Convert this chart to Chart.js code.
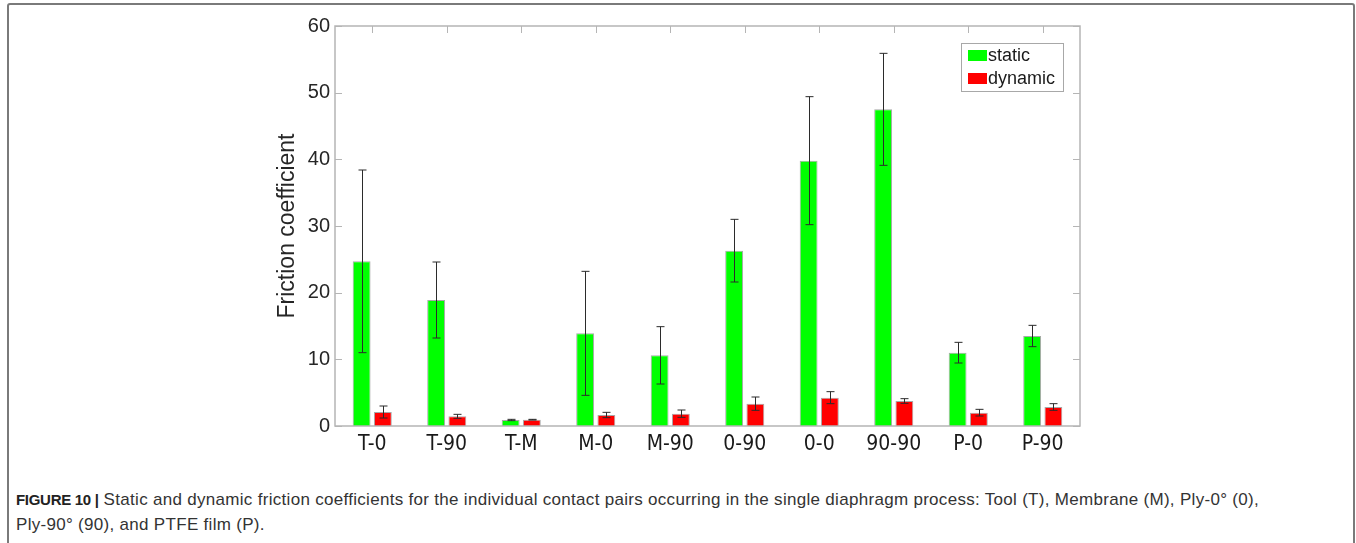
<!DOCTYPE html>
<html>
<head>
<meta charset="utf-8">
<script src="https://cdn.jsdelivr.net/npm/chart.js@4.4.0/dist/chart.umd.min.js"></script>
<style>
  body { margin: 0; background: #fff; width: 1356px; height: 543px; overflow: hidden; position: relative; }
  #frame { position: absolute; left: 7px; top: 3px; width: 1344px; height: 560px; border: 2px solid #7a7a7a; border-radius: 3px; }
  #wrap { position: absolute; left: 0; top: 0; width: 1356px; height: 470px; }
  #caption { position: absolute; left: 16px; top: 487px; font-family: "Liberation Sans", Arial, sans-serif; font-size: 17px; letter-spacing: 0.3px; line-height: 25px; color: #333; white-space: nowrap; }
  #caption b { font-weight: bold; font-size: 15px; letter-spacing: -0.3px; color: #222; }
</style>
</head>
<body>
<div id="frame"></div>
<div id="wrap"><canvas id="barChart"></canvas></div>
<div id="caption"><b>FIGURE 10 |</b> Static and dynamic friction coefficients for the individual contact pairs occurring in the single diaphragm process: Tool (T), Membrane (M), Ply-0° (0),<br>Ply-90° (90), and PTFE film (P).</div>
<script>
const categories = ["T-0", "T-90", "T-M", "M-0", "M-90", "0-90", "0-0", "90-90", "P-0", "P-90"];
const staticValues = [24.7, 18.9, 0.9, 13.9, 10.6, 26.3, 39.8, 47.5, 11.0, 13.5];
const staticErrors = [13.7, 5.7, 0.1, 9.3, 4.3, 4.7, 9.6, 8.4, 1.55, 1.6];
const dynamicValues = [2.1, 1.45, 0.95, 1.65, 1.85, 3.35, 4.25, 3.75, 2.0, 2.85];
const dynamicErrors = [0.9, 0.3, 0.05, 0.4, 0.55, 1.0, 0.9, 0.35, 0.5, 0.5];
const yTicks = [0, 10, 20, 30, 40, 50, 60];

const staticColor = "#00ff00";
const dynamicColor = "#ff0000";
const axisColor = "#b5b5b5";

// error bars, plot frame, inward ticks and the boxed legend
const extras = {
  id: "extras",
  afterDatasetsDraw(chart) {
    const { ctx, chartArea: a, scales } = chart;
    const y = scales.y;
    const x = scales.x;
    ctx.save();

    // error bars
    ctx.strokeStyle = "#2b2b2b";
    ctx.lineWidth = 1;
    chart.data.datasets.forEach((ds, i) => {
      const meta = chart.getDatasetMeta(i);
      meta.data.forEach((bar, j) => {
        const v = ds.data[j];
        const e = ds.errors[j];
        const top = y.getPixelForValue(v + e);
        const bot = y.getPixelForValue(v - e);
        const cx = Math.round(bar.x) + 0.5;
        ctx.beginPath();
        ctx.moveTo(cx, top);
        ctx.lineTo(cx, bot);
        ctx.moveTo(cx - 4, top);
        ctx.lineTo(cx + 4, top);
        ctx.moveTo(cx - 4, bot);
        ctx.lineTo(cx + 4, bot);
        ctx.stroke();
      });
    });

    // frame
    ctx.strokeStyle = axisColor;
    ctx.lineWidth = 1.5;
    ctx.strokeRect(a.left, a.top, a.right - a.left, a.bottom - a.top);

    // inward ticks
    ctx.lineWidth = 1;
    y.ticks.forEach((t, i) => {
      const py = Math.round(y.getPixelForTick(i)) + 0.5;
      ctx.beginPath();
      ctx.moveTo(a.left, py);
      ctx.lineTo(a.left + 7, py);
      ctx.moveTo(a.right, py);
      ctx.lineTo(a.right - 7, py);
      ctx.stroke();
    });
    x.ticks.forEach((t, i) => {
      const px = Math.round(x.getPixelForTick(i)) + 0.5;
      ctx.beginPath();
      ctx.moveTo(px, a.top);
      ctx.lineTo(px, a.top + 7);
      ctx.stroke();
    });

    // legend
    const lx = 961, ly = 43, lw = 102, lh = 48;
    ctx.fillStyle = "#fff";
    ctx.fillRect(lx, ly, lw, lh);
    ctx.strokeStyle = "#a8a8a8";
    ctx.strokeRect(lx + 0.5, ly + 0.5, lw, lh);
    ctx.font = "18px 'Liberation Sans', Arial, sans-serif";
    ctx.textBaseline = "middle";
    chart.data.datasets.forEach((ds, i) => {
      const cy = ly + 13 + i * 23;
      ctx.fillStyle = ds.backgroundColor;
      ctx.fillRect(lx + 7, cy - 6, 19, 11);
      ctx.fillStyle = "#1a1a1a";
      ctx.fillText(ds.label, lx + 27, cy);
    });
    ctx.restore();
  },
};

const ctx = document.getElementById("barChart").getContext("2d");
const chart = new Chart(ctx, {
  type: "bar",
  data: {
    labels: categories,
    datasets: [
      {
        label: "static",
        data: staticValues,
        errors: staticErrors,
        backgroundColor: staticColor,
        borderColor: "rgba(110,110,110,0.6)",
        borderWidth: 1,
        borderSkipped: "bottom",
      },
      {
        label: "dynamic",
        data: dynamicValues,
        errors: dynamicErrors,
        backgroundColor: dynamicColor,
        borderColor: "rgba(110,110,110,0.6)",
        borderWidth: 1,
        borderSkipped: "bottom",
      },
    ],
  },
  options: {
    responsive: true,
    maintainAspectRatio: false,
    animation: false,
    categoryPercentage: 0.57,
    barPercentage: 0.84,
    layout: { padding: { left: 270, right: 276, top: 26, bottom: 0 } },
    plugins: {
      legend: { display: false },
      tooltip: { enabled: false },
    },
    scales: {
      x: {
        grid: { display: false, drawTicks: false },
        border: { display: false },
        ticks: {
          padding: 6,
          color: "#1a1a1a",
          font: { family: "'DejaVu Sans Condensed', 'DejaVu Sans', sans-serif", size: 21 },
          maxRotation: 0,
        },
        afterFit(scale) {
          scale.height = 44;
        },
      },
      y: {
        min: 0,
        max: 60,
        afterBuildTicks(scale) {
          scale.ticks = yTicks.map((v) => ({ value: v }));
        },
        grid: { display: false, drawTicks: false },
        border: { display: false },
        ticks: {
          padding: 5,
          color: "#262626",
          font: { family: "'Liberation Sans', Arial, sans-serif", size: 20 },
        },
        title: {
          display: true,
          text: "Friction coefficient",
          color: "#262626",
          font: { family: "'Liberation Sans', Arial, sans-serif", size: 23 },
          padding: { top: 4, bottom: 0 },
        },
        afterFit(scale) {
          scale.width = 65;
        },
      },
    },
  },
  plugins: [extras],
});
</script>
</body>
</html>
